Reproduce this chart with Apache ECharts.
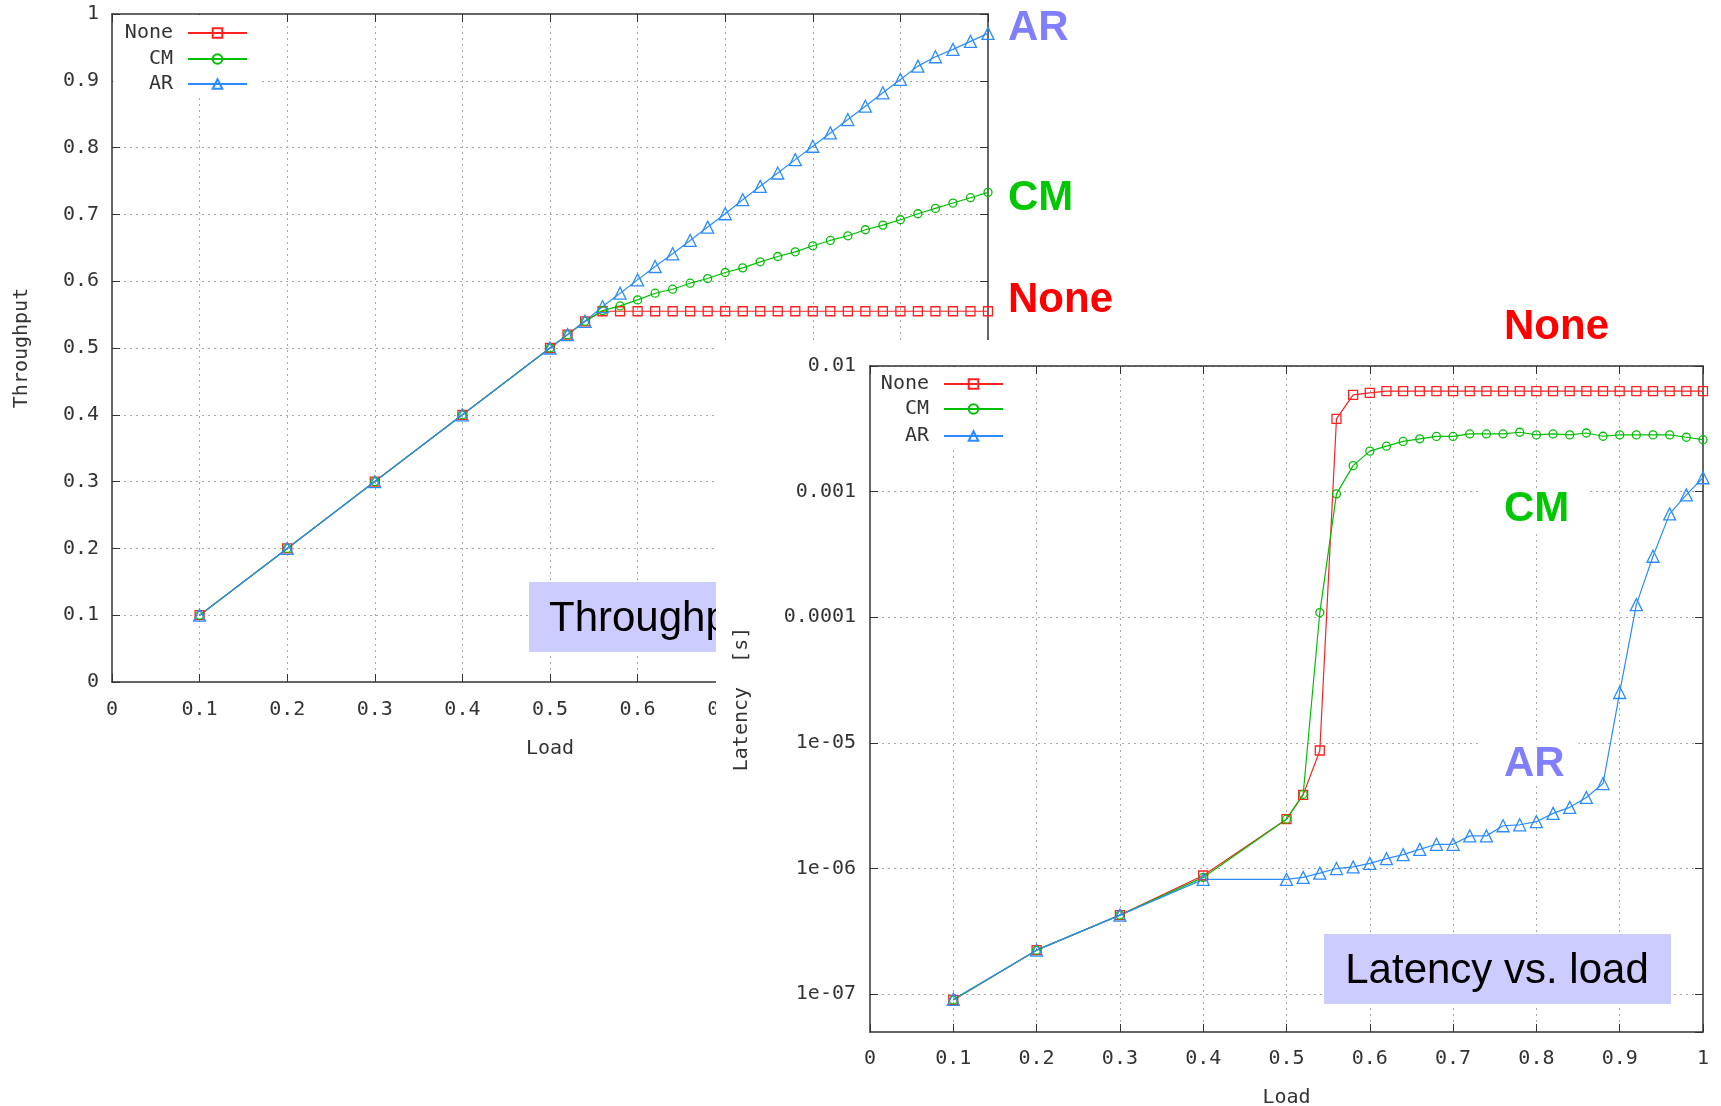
<!DOCTYPE html>
<html><head><meta charset="utf-8">
<script src="https://cdn.jsdelivr.net/npm/echarts@6/dist/echarts.min.js"></script>
<style>
html,body{margin:0;padding:0;background:#fff;width:1721px;height:1106px;overflow:hidden;}
#c1{position:absolute;left:0;top:0;width:1721px;height:1106px;}
#c2{position:absolute;left:716px;top:340px;width:1005px;height:766px;background:#fff;}
</style></head><body>
<div id="c1"></div><div id="c2"></div>
<script>
// ---------------- DATA ----------------
const loads = [0.1,0.2,0.3,0.4,0.5,0.52,0.54,0.56,0.58,0.6,0.62,0.64,0.66,0.68,0.7,0.72,0.74,0.76,0.78,0.8,0.82,0.84,0.86,0.88,0.9,0.92,0.94,0.96,0.98,1.0];
const seriesNames = ['None','CM','AR'];

// Throughput vs load
const thrNone = [0.1,0.2,0.3,0.4,0.5,0.52,0.54,0.555,0.555,0.555,0.555,0.555,0.555,0.555,0.555,0.555,0.555,0.555,0.555,0.555,0.555,0.555,0.555,0.555,0.555,0.555,0.555,0.555,0.555,0.555];
const thrCM   = [0.1,0.2,0.3,0.4,0.5,0.52,0.54,0.556,0.563,0.572,0.582,0.588,0.597,0.604,0.613,0.620,0.629,0.637,0.644,0.653,0.661,0.668,0.677,0.684,0.692,0.701,0.709,0.717,0.725,0.733];
const thrAR   = [0.1,0.2,0.3,0.4,0.5,0.52,0.54,0.562,0.582,0.602,0.622,0.641,0.661,0.681,0.701,0.722,0.742,0.762,0.782,0.802,0.822,0.842,0.862,0.882,0.902,0.922,0.936,0.947,0.959,0.971];

// Latency vs load (seconds)
const latNone = [9.0e-8,2.24e-7,4.26e-7,8.8e-7,2.47e-6,3.86e-6,8.7e-6,3.8e-3,5.9e-3,6.1e-3,6.3e-3,6.3e-3,6.3e-3,6.3e-3,6.3e-3,6.3e-3,6.3e-3,6.3e-3,6.3e-3,6.3e-3,6.3e-3,6.3e-3,6.3e-3,6.3e-3,6.3e-3,6.3e-3,6.3e-3,6.3e-3,6.3e-3,6.3e-3];
const latCM   = [9.0e-8,2.24e-7,4.26e-7,8.5e-7,2.47e-6,3.9e-6,1.09e-4,9.6e-4,1.61e-3,2.10e-3,2.30e-3,2.51e-3,2.63e-3,2.75e-3,2.75e-3,2.88e-3,2.88e-3,2.88e-3,2.97e-3,2.83e-3,2.88e-3,2.83e-3,2.93e-3,2.76e-3,2.83e-3,2.83e-3,2.83e-3,2.83e-3,2.71e-3,2.59e-3];
const latAR   = [9.1e-8,2.24e-7,4.26e-7,8.2e-7,8.2e-7,8.5e-7,9.2e-7,1.00e-6,1.03e-6,1.10e-6,1.20e-6,1.29e-6,1.42e-6,1.56e-6,1.56e-6,1.82e-6,1.82e-6,2.19e-6,2.23e-6,2.36e-6,2.75e-6,3.07e-6,3.68e-6,4.75e-6,2.52e-5,1.26e-4,3.06e-4,6.65e-4,9.42e-4,1.29e-3];

// Tick labels
const linTickLabels = ['0','0.1','0.2','0.3','0.4','0.5','0.6','0.7','0.8','0.9','1'];
const latTickValues = [1e-7,1e-6,1e-5,1e-4,1e-3,1e-2];
const latTickLabels = ['1e-07','1e-06','1e-05','0.0001','0.001','0.01'];

// Annotation texts
const boxTitles = ['Throughput vs. load','Latency vs. load'];

// ---------------- STYLE ----------------
const COLORS = {None:'#ff2020', CM:'#00c000', AR:'#2a8cff'};
const LABEL_COLORS = {None:'#ff0000', CM:'#00c800', AR:'#8080ff'};
const SYMBOLS = {None:['rect',9], CM:['circle',8], AR:['triangle',12]};
const MONO = '"DejaVu Sans Mono", monospace';
const TXT = {fontFamily: MONO, fontSize: 20, color:'#333'};
const BIG = 'bold 42px "Liberation Sans", Arial, sans-serif';
const AXLINE = {show:true, onZero:false, lineStyle:{color:'#333', width:1.5}};
const AXTICK = {show:true, inside:true, length:8, lineStyle:{color:'#333', width:1}};
const GRIDLINE = {show:true, showMinLine:false, showMaxLine:false, lineStyle:{color:'#a8a8a8', width:1, type:[2,4]}};

function linFmt(v){ const i = Math.round(v*10); return linTickLabels[i] !== undefined ? linTickLabels[i] : ''; }
function logFmt(v){
  const i = latTickValues.findIndex(t => Math.abs(Math.log10(v/t)) < 1e-6);
  return i < 0 ? '' : latTickLabels[i];
}

function mkSeries(name, xs, ys){
  const c = COLORS[name];
  return {
    name, type:'line', data: xs.map((x,i)=>[x, ys[i]]),
    symbol: SYMBOLS[name][0], symbolSize: SYMBOLS[name][1], showSymbol:true, showAllSymbol:true,
    lineStyle:{color:c, width:1.2},
    itemStyle:{color:'rgba(255,255,255,0)', borderColor:c, borderWidth:1.3},
    emphasis:{disabled:true}, silent:true, animation:false
  };
}

function mkLegends(rightPx, centers){
  return seriesNames.map((n,i)=>({
    data:[n], orient:'horizontal', align:'right', right:rightPx, top:centers[i]-10,
    itemWidth:59, itemHeight:12, itemGap:0, padding:0, selectedMode:false,
    textStyle:{fontFamily:MONO, fontSize:20, color:'#333', lineHeight:20, padding:[0,10,0,0]}
  }));
}

// ---------------- CHART 1: Throughput ----------------
const chart1 = echarts.init(document.getElementById('c1'));
chart1.setOption({
  animation:false,
  grid:{left:112, top:14, width:876, height:668, containLabel:false, outerBoundsMode:'none'},
  xAxis:[
    {type:'value', min:0, max:1, interval:0.1, position:'bottom',
     name:'Load', nameLocation:'middle', nameGap:57, nameTextStyle:TXT,
     axisLine:AXLINE, axisTick:AXTICK, axisLabel:Object.assign({margin:18, formatter:linFmt}, TXT), splitLine:GRIDLINE},
    {type:'value', min:0, max:1, interval:0.1, position:'top',
     axisLine:AXLINE, axisTick:AXTICK, axisLabel:{show:false}, splitLine:{show:false}}
  ],
  yAxis:[
    {type:'value', min:0, max:1, interval:0.1, position:'left',
     name:'Throughput', nameLocation:'middle', nameGap:80, nameTextStyle:TXT,
     axisLine:AXLINE, axisTick:AXTICK, axisLabel:Object.assign({margin:13, formatter:linFmt}, TXT), splitLine:GRIDLINE},
    {type:'value', min:0, max:1, interval:0.1, position:'right',
     axisLine:AXLINE, axisTick:AXTICK, axisLabel:{show:false}, splitLine:{show:false}}
  ],
  legend: mkLegends(1721-248, [33,59,84]),
  graphic:[
    {type:'rect', z:3, shape:{x:113, y:15, width:145, height:80}, style:{fill:'#fff'}},
    {type:'rect', z:5, shape:{x:529, y:582, width:410, height:70}, style:{fill:'#ccccff'}},
    {type:'text', z:6, x:549, y:619, style:{text:boxTitles[0], font:'42px "Liberation Sans", Arial, sans-serif', fill:'#000', align:'left', verticalAlign:'middle'}},
    {type:'text', z:6, x:1008, y:28, style:{text:'AR', font:BIG, fill:LABEL_COLORS.AR, align:'left', verticalAlign:'middle'}},
    {type:'text', z:6, x:1008, y:198, style:{text:'CM', font:BIG, fill:LABEL_COLORS.CM, align:'left', verticalAlign:'middle'}},
    {type:'text', z:6, x:1008, y:300, style:{text:'None', font:BIG, fill:LABEL_COLORS.None, align:'left', verticalAlign:'middle'}},
    {type:'text', z:6, x:1504, y:327, style:{text:'None', font:BIG, fill:LABEL_COLORS.None, align:'left', verticalAlign:'middle'}}
  ],
  series:[
    mkSeries('None', loads, thrNone),
    mkSeries('CM', loads, thrCM),
    mkSeries('AR', loads, thrAR)
  ]
});

// ---------------- CHART 2: Latency ----------------
const chart2 = echarts.init(document.getElementById('c2'));
chart2.setOption({
  animation:false,
  grid:{left:154, top:26, width:833, height:666, containLabel:false, outerBoundsMode:'none'},
  xAxis:[
    {type:'value', min:0, max:1, interval:0.1, position:'bottom',
     name:'Load', nameLocation:'middle', nameGap:56, nameTextStyle:TXT,
     axisLine:AXLINE, axisTick:AXTICK, axisLabel:Object.assign({margin:17, formatter:linFmt}, TXT), splitLine:GRIDLINE},
    {type:'value', min:0, max:1, interval:0.1, position:'top',
     axisLine:AXLINE, axisTick:AXTICK, axisLabel:{show:false}, splitLine:{show:false}}
  ],
  yAxis:[
    {type:'log', logBase:10, min:5e-8, max:1e-2, position:'left',
     name:'Latency  [s]', nameLocation:'middle', nameGap:118, nameTextStyle:TXT,
     axisLine:AXLINE, axisTick:AXTICK, axisLabel:Object.assign({margin:14, formatter:logFmt, showMinLabel:false}, TXT), splitLine:GRIDLINE},
    {type:'log', logBase:10, min:5e-8, max:1e-2, position:'right',
     axisLine:AXLINE, axisTick:AXTICK, axisLabel:{show:false}, splitLine:{show:false}}
  ],
  legend: mkLegends(1005-288, [44,69,96]),
  graphic:[
    {type:'rect', z:3, shape:{x:155, y:27, width:140, height:80}, style:{fill:'#fff'}},
    {type:'rect', z:5, shape:{x:608, y:594, width:347, height:70}, style:{fill:'#ccccff'}},
    {type:'text', z:6, x:781, y:631, style:{text:boxTitles[1], font:'42px "Liberation Sans", Arial, sans-serif', fill:'#000', align:'center', verticalAlign:'middle'}},
    {type:'text', z:6, x:764, y:169, style:{text:'CM', font:BIG, fill:LABEL_COLORS.CM, align:'left', verticalAlign:'middle', backgroundColor:'#fff', padding:[0,18,0,24]}},
    {type:'text', z:6, x:764, y:424, style:{text:'AR', font:BIG, fill:LABEL_COLORS.AR, align:'left', verticalAlign:'middle', backgroundColor:'#fff', padding:[0,14,0,24]}}
  ],
  series:[
    mkSeries('None', loads, latNone),
    mkSeries('CM', loads, latCM),
    mkSeries('AR', loads, latAR)
  ]
});
</script>
</body></html>
